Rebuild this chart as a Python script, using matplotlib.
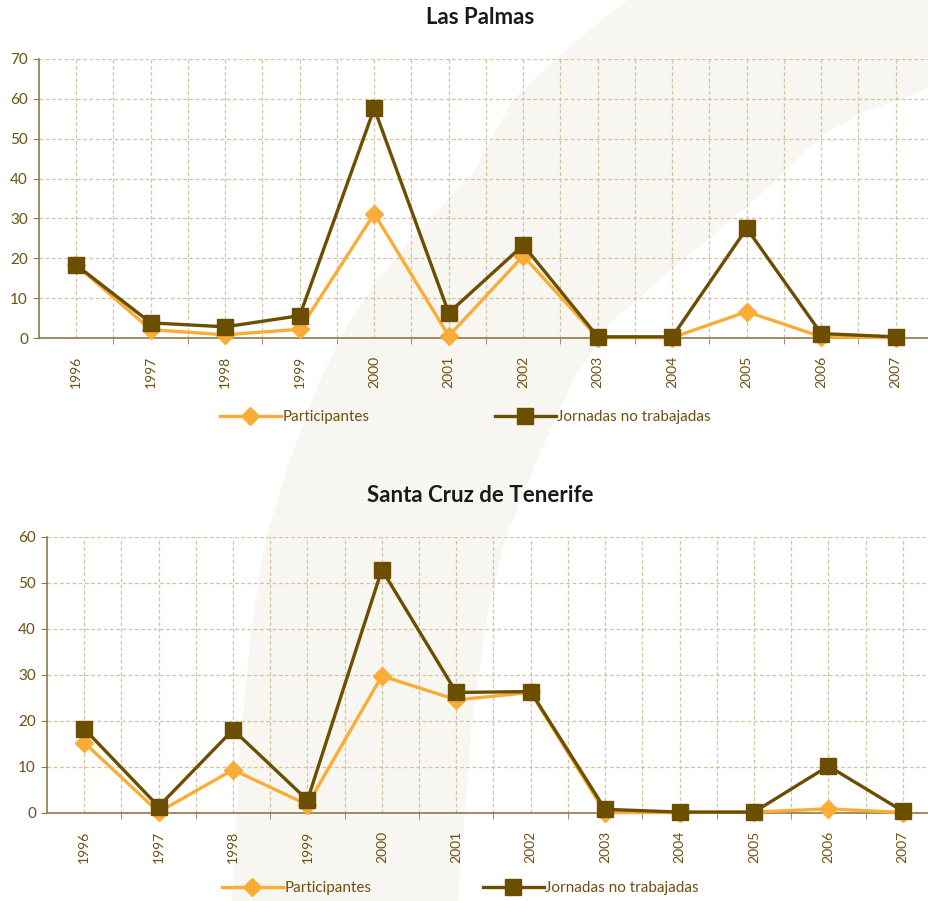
import matplotlib
matplotlib.use("Agg")
import matplotlib.pyplot as plt
from matplotlib.patches import Polygon
from matplotlib.ticker import FixedLocator, MultipleLocator
import numpy as np

plt.rcParams['font.family'] = ['Lato', 'DejaVu Sans']

years = ['1996', '1997', '1998', '1999', '2000', '2001', '2002', '2003', '2004', '2005', '2006', '2007']

lp_participantes = [18.3, 2.1, 0.8, 2.2, 31.2, 0.5, 20.6, 0.1, 0.1, 6.6, 0.3, 0.1]
lp_jornadas = [18.3, 3.8, 2.8, 5.6, 57.6, 6.3, 23.3, 0.3, 0.3, 27.5, 1.1, 0.3]

tf_participantes = [15.3, 0.2, 9.4, 1.8, 29.8, 24.6, 26.2, 0.1, 0.1, 0.2, 0.9, 0.1]
tf_jornadas = [18.3, 1.4, 18.1, 2.8, 52.9, 26.2, 26.4, 0.8, 0.2, 0.2, 10.2, 0.4]

W, H = 929, 901
fig = plt.figure(figsize=(W / 100, H / 100), dpi=100)

# decorative background band (pixel outline)
left_edge = [(627, 0), (577, 40), (513, 100), (473, 173), (420, 230), (383, 273), (350, 320), (320, 380),
             (290, 460), (265, 540), (250, 640), (240, 750), (235, 850), (232, 901)]
right_edge = [(929, 87), (900, 100), (867, 110), (820, 137), (747, 207), (680, 262), (610, 323), (573, 380),
              (537, 460), (505, 540), (490, 600), (472, 720), (462, 850), (458, 901)]
pts = left_edge + right_edge[::-1] + [(929, 0)]
poly = Polygon([(x / W, 1 - y / H) for x, y in pts], closed=True, transform=fig.transFigure,
               facecolor='#f8f6f0', edgecolor='none', zorder=-10)
fig.patches.append(poly)

TXT = '#6b5012'
GRID = '#d2c4a2'
SPINE = '#8c7a4a'
C_P = '#f9ad36'
C_J = '#6b4e00'


def make_axes(left_px, right_px, top_px, bottom_px):
    ax = fig.add_axes([left_px / W, 1 - bottom_px / H, (right_px - left_px) / W, (bottom_px - top_px) / H])
    ax.set_zorder(1)
    return ax


def style(ax, ymax):
    x = np.arange(len(years))
    ax.set_xlim(-0.5, len(years) - 0.5)
    ax.set_ylim(0, ymax)
    ax.patch.set_alpha(0)
    ax.xaxis.set_major_locator(FixedLocator(x))
    ax.set_xticklabels(years, rotation=90, color=TXT, fontsize=10)
    ax.xaxis.set_minor_locator(FixedLocator(x[:-1] + 0.5))
    ax.tick_params(axis='x', which='major', length=0, pad=13)
    ax.tick_params(axis='x', which='minor', length=4, color=SPINE, direction='out')
    ax.yaxis.set_major_locator(MultipleLocator(10))
    ax.tick_params(axis='y', which='major', length=4, color=SPINE, labelcolor=TXT, labelsize=11, pad=4)
    ax.grid(True, which='both', color=GRID, linestyle=(0, (3, 2)), linewidth=0.9)
    for s in ['top', 'right']:
        ax.spines[s].set_visible(False)
    for s in ['left', 'bottom']:
        ax.spines[s].set_color(SPINE)
        ax.spines[s].set_linewidth(1.2)
    ax.set_axisbelow(True)


def plot_series(ax, p, j):
    x = np.arange(len(years))
    ax.plot(x, p, color=C_P, lw=2.4, marker='D', markersize=9, markeredgecolor=C_P, label='Participantes', zorder=3, clip_on=False)
    ax.plot(x, j, color=C_J, lw=2.4, marker='s', markersize=11, markeredgecolor=C_J, label='Jornadas no trabajadas', zorder=4, clip_on=False)


ax1 = make_axes(39, 933, 59, 338)
style(ax1, 70)
plot_series(ax1, lp_participantes, lp_jornadas)
fig.text(480 / W, 1 - 17 / H, 'Las Palmas', ha='center', va='center', fontsize=16, fontweight='bold', color='#1a1a1a')
fig.legend(*ax1.get_legend_handles_labels(), loc='center left', bbox_to_anchor=(212 / W, 1 - 417 / H), ncol=2,
           frameon=False, handlelength=4.0, handletextpad=0.1, columnspacing=8.2,
           prop={'size': 11}, labelcolor=TXT, borderpad=0.0)

ax2 = make_axes(47, 940, 537, 813)
style(ax2, 60)
plot_series(ax2, tf_participantes, tf_jornadas)
fig.text(480 / W, 1 - 495 / H, 'Santa Cruz de Tenerife', ha='center', va='center', fontsize=16, fontweight='bold', color='#1a1a1a')
fig.legend(*ax2.get_legend_handles_labels(), loc='center left', bbox_to_anchor=(214 / W, 1 - 888 / H), ncol=2,
           frameon=False, handlelength=4.0, handletextpad=0.1, columnspacing=7.3,
           prop={'size': 11}, labelcolor=TXT, borderpad=0.0)

fig.savefig('out.png', dpi=100)
